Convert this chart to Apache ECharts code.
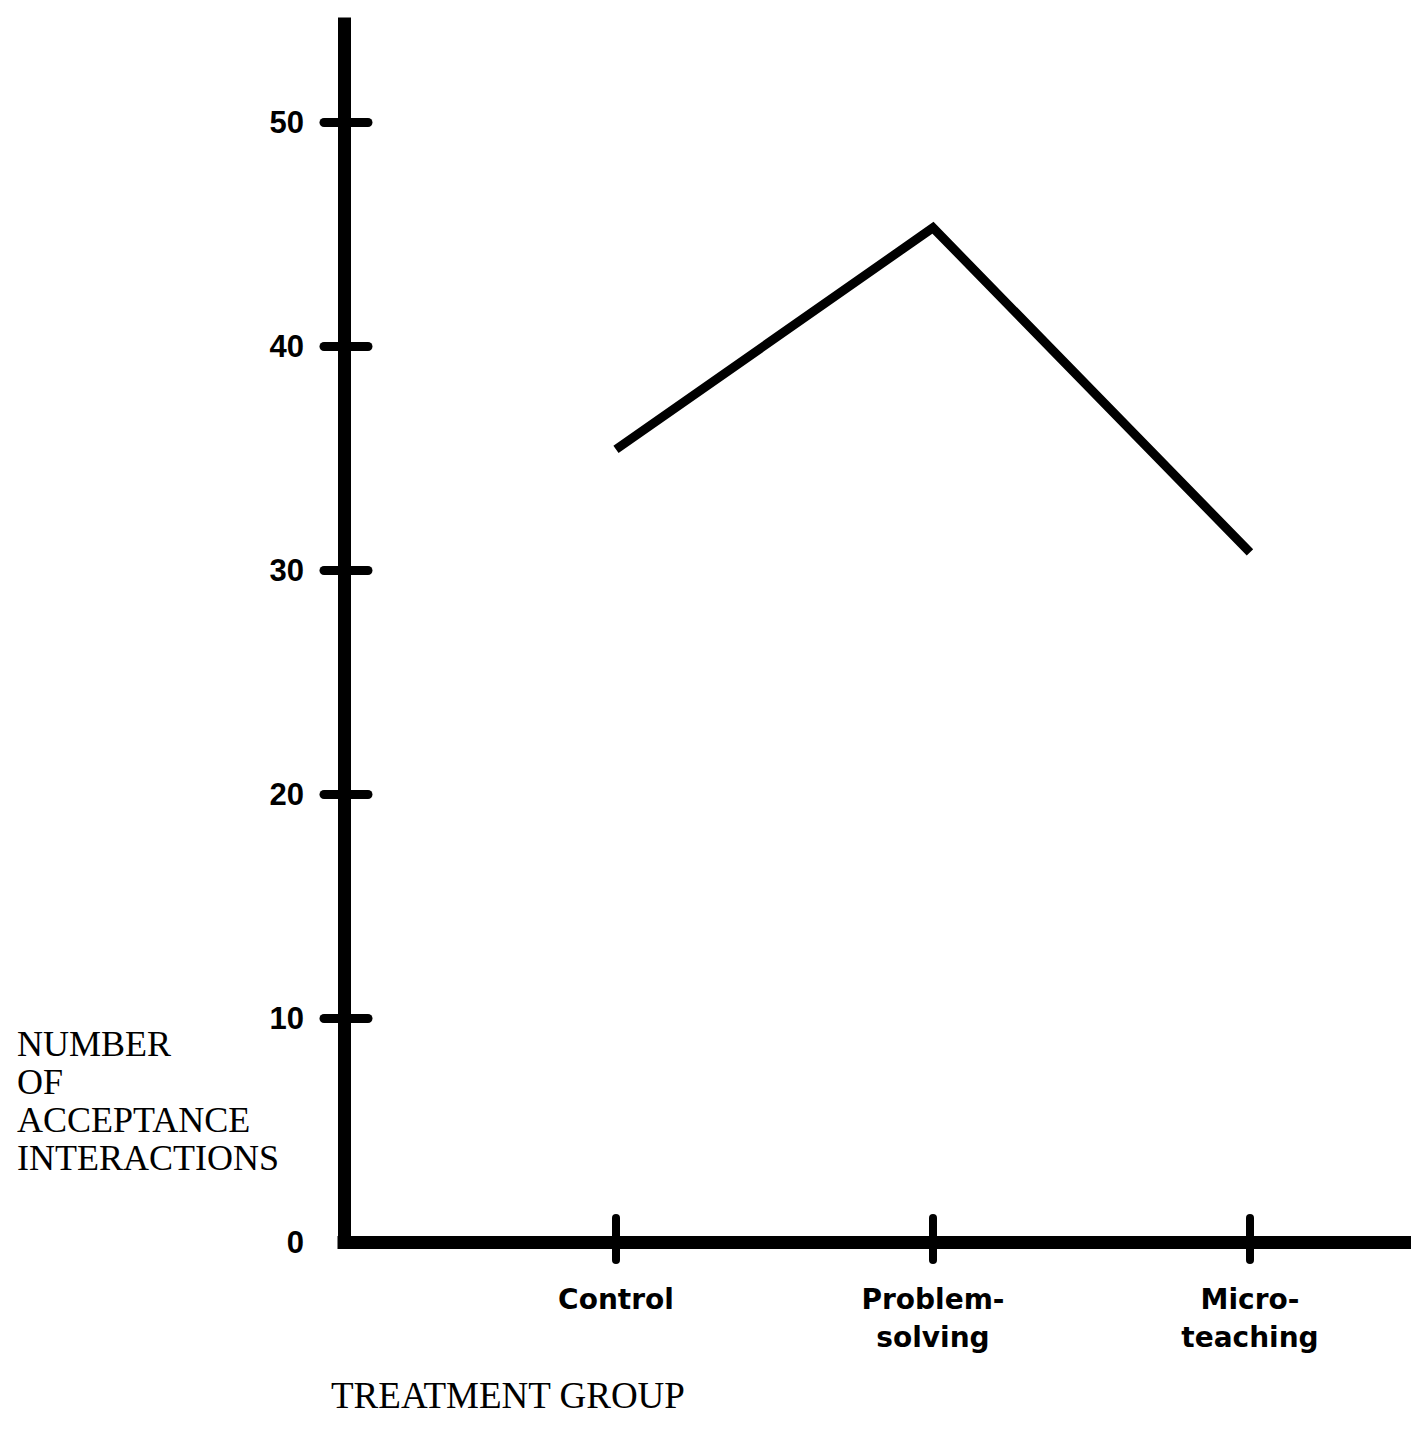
<!DOCTYPE html>
<html>
<head>
<meta charset="utf-8">
<script src="https://cdn.jsdelivr.net/npm/echarts@6/dist/echarts.min.js"></script>
<style>
  html, body { margin: 0; padding: 0; background: #fff; }
  #main { width: 1411px; height: 1439px; }
</style>
</head>
<body>
<div id="main"></div>
<script>
// data
var categories = ['Control', 'Problem-\nsolving', 'Micro-\nteaching'];
var acceptance = [35.4, 45.3, 30.8];
var yTicks = [0, 10, 20, 30, 40, 50];

// category i sits at x = i + 1 on a value axis
var catPos = categories.map(function (c, i) { return i + 1; });
var points = acceptance.map(function (v, i) { return [catPos[i], v]; });

var chart = echarts.init(document.getElementById('main'), null, { renderer: 'svg' });

var xMin = 0.142, xMax = 3.508;
var yMin = 0, yMax = 54.4;

function catLabel(v) {
  var i = Math.round(v) - 1;
  return categories[i] || '';
}

var option = {
  backgroundColor: '#fff',
  animation: false,
  grid: { left: 344, right: 0, top: 24, bottom: 197 },
  xAxis: [
    {
      type: 'value', min: xMin, max: xMax, position: 'bottom',
      axisLine: { show: true, lineStyle: { color: '#000', width: 13, cap: 'square' } },
      axisTick: { show: true, inside: false, length: 18, customValues: catPos,
                  lineStyle: { color: '#000', width: 8, cap: 'round' } },
      axisLabel: { show: true, customValues: catPos, formatter: catLabel, margin: 38,
                   color: '#000', fontFamily: 'DejaVu Sans', fontWeight: 'bold',
                   fontSize: 28, lineHeight: 38 },
      splitLine: { show: false }
    },
    {
      type: 'value', min: xMin, max: xMax, position: 'bottom', offset: 0,
      axisLine: { show: false },
      axisTick: { show: true, inside: true, length: 24, customValues: catPos,
                  lineStyle: { color: '#000', width: 8, cap: 'round' } },
      axisLabel: { show: false },
      splitLine: { show: false }
    }
  ],
  yAxis: [
    {
      type: 'value', min: yMin, max: yMax, position: 'left',
      axisLine: { show: true, lineStyle: { color: '#000', width: 13, cap: 'square' } },
      axisTick: { show: true, inside: false, length: 20, customValues: yTicks.slice(1),
                  lineStyle: { color: '#000', width: 9, cap: 'round' } },
      axisLabel: { show: true, customValues: yTicks, margin: 40,
                   color: '#000', fontFamily: "'Liberation Sans Narrow', 'Liberation Sans', sans-serif",
                   fontWeight: 'bold', fontSize: 31 },
      splitLine: { show: false }
    },
    {
      type: 'value', min: yMin, max: yMax, position: 'left', offset: 0,
      axisLine: { show: false },
      axisTick: { show: true, inside: true, length: 24, customValues: yTicks.slice(1),
                  lineStyle: { color: '#000', width: 9, cap: 'round' } },
      axisLabel: { show: false },
      splitLine: { show: false }
    }
  ],
  series: [
    {
      type: 'line',
      data: points,
      xAxisIndex: 0,
      yAxisIndex: 0,
      symbol: 'none',
      lineStyle: { color: '#000', width: 9, join: 'miter', cap: 'butt' }
    }
  ],
  graphic: [
    {
      type: 'text', left: 17, top: 1025,
      style: {
        text: 'NUMBER\nOF\nACCEPTANCE\nINTERACTIONS',
        fill: '#000', font: '36px "Liberation Serif"', lineHeight: 38
      }
    },
    {
      type: 'text', left: 331, top: 1377,
      style: {
        text: 'TREATMENT GROUP',
        fill: '#000', font: '37px "Liberation Serif"'
      }
    }
  ]
};

chart.setOption(option);
</script>
</body>
</html>
